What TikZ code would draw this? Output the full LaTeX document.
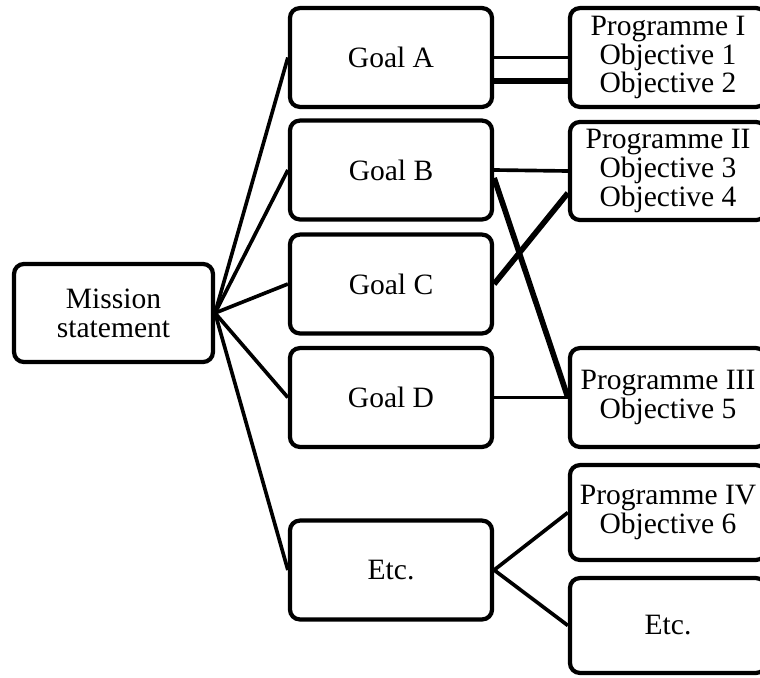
\documentclass[tikz,border=0pt]{standalone}
\usepackage{fontspec}
\setmainfont{Liberation Serif}
\usepackage{tikz}
\usetikzlibrary{positioning}

\begin{document}
\begin{tikzpicture}[x=0.025cm,y=-0.025cm,
  every node/.style={draw,line width=3pt,rounded corners=7pt,fill=white,align=center,
    font=\fontsize{21pt}{20.5pt}\selectfont,inner sep=0pt},
  goalbox/.style={minimum width=5.05cm,minimum height=2.47cm},
  progbox/.style={minimum width=4.9cm},
  thin/.style={line width=2.6pt},
  thick/.style={line width=4pt}]
\clip (0,0) rectangle (760,677);
\node[minimum width=4.97cm,minimum height=2.45cm] (mission) at (113.5,313) {Mission\\statement};
\node[goalbox] (goalA) at (391,57.5) {Goal A};
\node[goalbox] (goalB) at (391,170) {Goal B};
\node[goalbox] (goalC) at (391,284) {Goal C};
\node[goalbox] (goalD) at (391,397.5) {Goal D};
\node[goalbox] (goalE) at (391,570) {Etc.};
\node[progbox,minimum height=2.47cm] (progI) at (668,57.5) {Programme I\\Objective 1\\Objective 2};
\node[progbox,minimum height=2.45cm] (progII) at (668,171) {Programme II\\Objective 3\\Objective 4};
\node[progbox,minimum height=2.47cm] (progIII) at (668,397.5) {Programme III\\Objective 5};
\node[progbox,minimum height=2.37cm] (progIV) at (668,512.5) {Programme IV\\Objective 6};
\node[progbox,minimum height=2.37cm] (progE) at (668,625.5) {Etc.};
\foreach \g in {goalA,goalB,goalC,goalD,goalE}
  \draw[thin] (mission.east) -- (\g.west);
\draw[thin] (goalA.east) -- (progI.west);
\draw[thick] ([yshift=-0.58cm]goalA.east) -- ([yshift=-0.58cm]progI.west);
\draw[thin] (goalB.east) -- (progII.west);
\draw[thick] ([yshift=-0.2cm]goalB.east) -- (progIII.west);
\draw[thick] (goalC.east) -- ([yshift=-0.55cm]progII.west);
\draw[thin] (goalD.east) -- (progIII.west);
\draw[thin] (goalE.east) -- (progIV.west);
\draw[thin] (goalE.east) -- (progE.west);
\end{tikzpicture}
\end{document}
